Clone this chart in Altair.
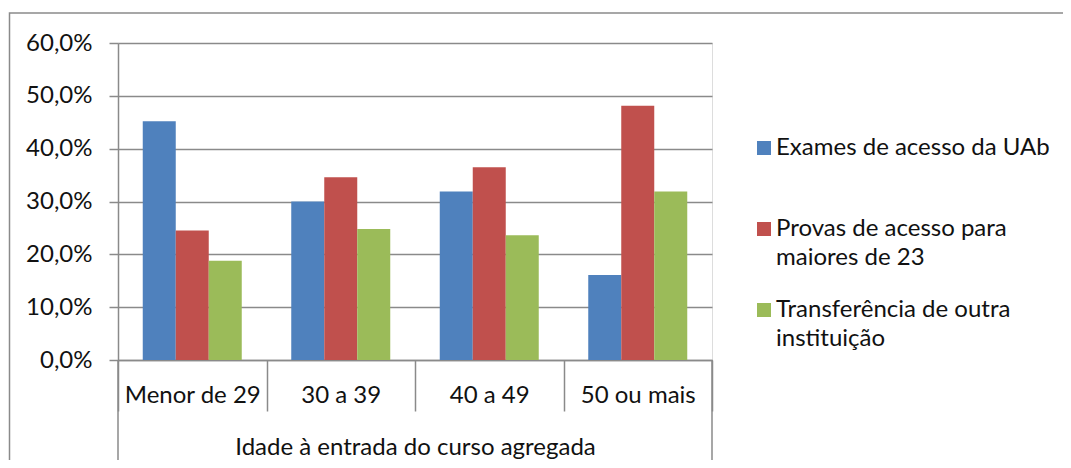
import altair as alt
import pandas as pd

categories = ["Menor de 29", "30 a 39", "40 a 49", "50 ou mais"]
series = [
    "Exames de acesso da UAb",
    "Provas de acesso para maiores de 23",
    "Transferência de outra instituição",
]
exames = [45.2, 30.0, 31.9, 16.1]
provas = [24.5, 34.6, 36.5, 48.1]
transf = [18.8, 24.8, 23.6, 31.9]
colors = ["#4F81BD", "#C0504D", "#9BBB59"]
y_ticks = [0.0, 0.1, 0.2, 0.3, 0.4, 0.5, 0.6]
x_title = "Idade à entrada do curso agregada"

rows = []
for i, c in enumerate(categories):
    for s, vals in zip(series, [exames, provas, transf]):
        rows.append({"cat": c, "serie": s, "val": vals[i] / 100})
df = pd.DataFrame(rows)

W, H = 594, 317
FONT = "Lato"
FS = 24
GRAY = "#8a8a8a"
TXT = "#111111"

label_expr = (
    "datum.label == 'Exames de acesso da UAb' ? ['Exames de acesso da UAb', ''] : "
    "datum.label == 'Provas de acesso para maiores de 23' ? ['Provas de acesso para', 'maiores de 23'] : "
    "['Transferência de outra', 'instituição']"
)

bars = alt.Chart(df).mark_bar().encode(
    x=alt.X(
        "cat:N",
        sort=categories,
        scale=alt.Scale(paddingInner=0, paddingOuter=0),
        axis=alt.Axis(
            title=x_title,
            tickBand="extent",
            tickSize=51,
            tickColor=GRAY,
            tickWidth=1.5,
            domainColor=GRAY,
            domainWidth=1.5,
            labelPadding=-16,
            labelBaseline="middle",
            labelAngle=0,
            labelFont=FONT,
            labelFontSize=FS,
            labelColor=TXT,
            titleFont=FONT,
            titleFontSize=FS,
            titleFontWeight="normal",
            titleColor=TXT,
            titleY=87,
            titleBaseline="middle",
        ),
    ),
    xOffset=alt.XOffset(
        "serie:N", sort=series, scale=alt.Scale(paddingInner=0, paddingOuter=0.75)
    ),
    y=alt.Y(
        "val:Q",
        scale=alt.Scale(domain=[0, 0.6], nice=False),
        axis=alt.Axis(
            title=None,
            values=y_ticks,
            labelExpr="replace(format(datum.value, '.1%'), '.', ',')",
            tickSize=9,
            tickColor=GRAY,
            tickWidth=1.5,
            domainColor=GRAY,
            domainWidth=1.5,
            gridColor=GRAY,
            gridWidth=1.5,
            labelPadding=17,
            labelFont=FONT,
            labelFontSize=FS,
            labelColor=TXT,
        ),
    ),
    color=alt.Color(
        "serie:N",
        sort=series,
        scale=alt.Scale(domain=series, range=colors),
        legend=alt.Legend(
            title=None,
            orient="none",
            legendX=634,
            legendY=93,
            padding=0,
            symbolType="square",
            symbolSize=196,
            symbolStrokeWidth=0,
            labelExpr=label_expr,
            labelFont=FONT,
            labelFontSize=FS,
            labelColor=TXT,
            labelLimit=400,
            labelOffset=0,
            rowPadding=28,
        ),
    ),
)

frame = alt.Chart(pd.DataFrame({"k": [0]})).mark_rect(
    fill=None, stroke=GRAY, strokeWidth=1.5
).encode(
    x=alt.value(-108.5), y=alt.value(-30), x2=alt.value(1100), y2=alt.value(470)
)

ext = pd.DataFrame({"k": [0]})
left_ext = alt.Chart(ext).mark_rule(color=GRAY, strokeWidth=1.5).encode(
    x=alt.value(0), y=alt.value(H), y2=alt.value(H + 103)
)
right_ext = alt.Chart(ext).mark_rule(color=GRAY, strokeWidth=1.5).encode(
    x=alt.value(W), y=alt.value(H), y2=alt.value(H + 103)
)

chart = (
    alt.layer(frame, bars, left_ext, right_ext)
    .properties(
        width=W,
        height=H,
        autosize=alt.AutoSizeParams(type="none"),
        padding={"left": 110, "top": 35, "right": 351, "bottom": 100},
    )
    .configure_view(stroke=None)
    .configure(style={"guide-label": {"lineHeight": 29}})
)

chart.save("out.html", embed_options={"renderer": "svg", "actions": False})
